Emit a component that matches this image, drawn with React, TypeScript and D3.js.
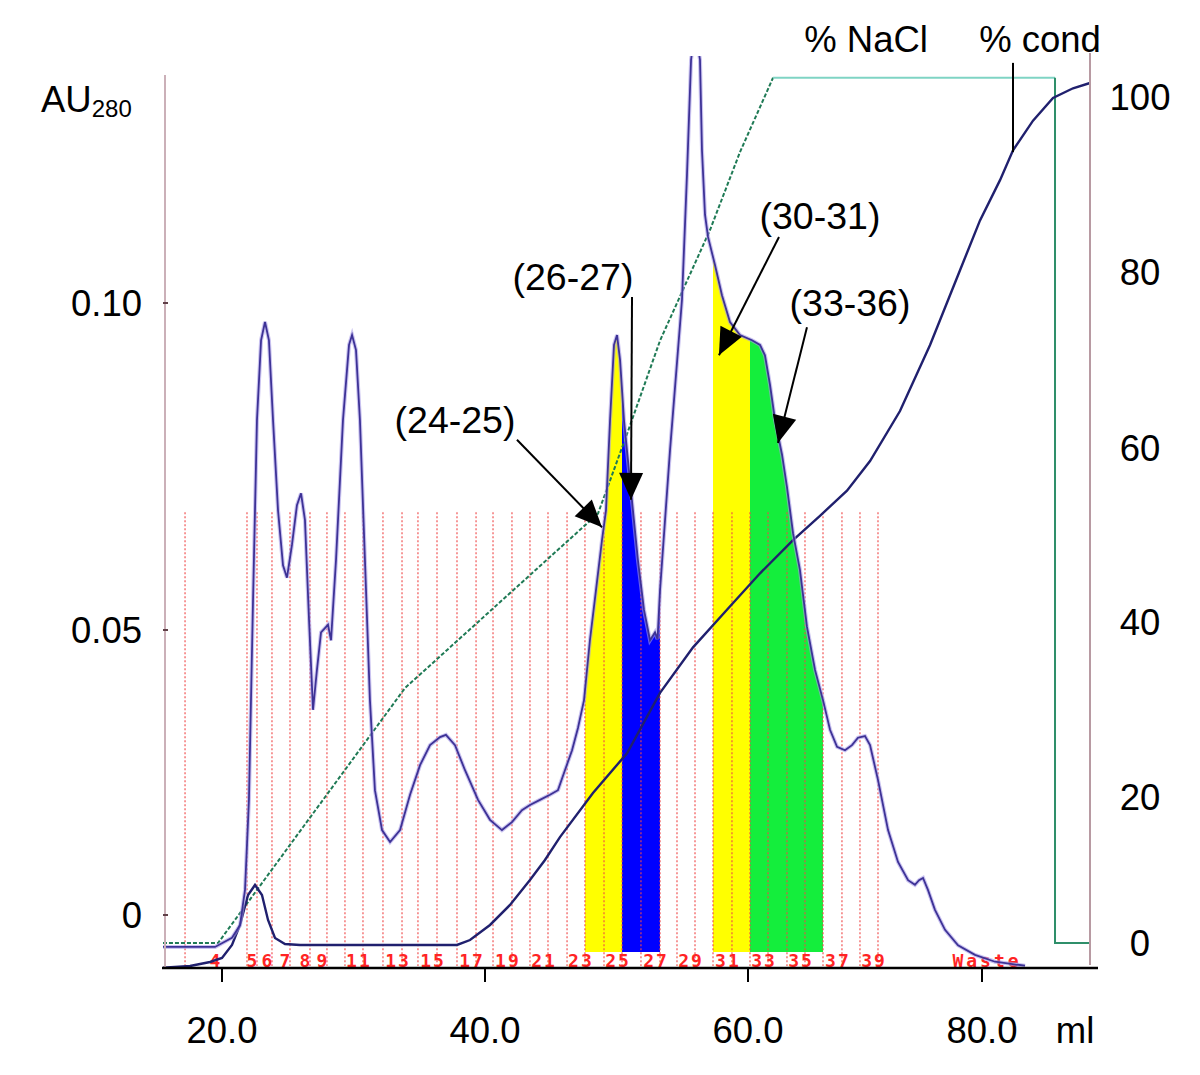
import React from 'react';
import * as d3 from 'd3';

// ---------- data ----------
// UV absorbance trace (AU280) vs elution volume (ml)
const uvMl = [15.51, 19.47, 20.76, 21.37, 21.75, 22.05, 22.36, 22.66, 22.97, 23.27, 23.57, 23.88, 24.26, 24.64, 24.94, 25.32, 25.70, 26.01, 26.31, 26.62, 26.92, 27.22, 27.53, 27.83, 28.06, 28.29, 28.67, 29.20, 29.66, 29.89, 30.19, 30.49, 30.87, 31.25, 31.63, 32.17, 32.78, 33.54, 34.30, 35.06, 35.82, 36.58, 37.03, 37.72, 38.48, 39.47, 40.38, 41.29, 42.05, 42.81, 43.42, 44.18, 44.94, 45.55, 46.08, 46.62, 47.07, 47.53, 47.98, 48.44, 48.90, 49.20, 49.51, 49.81, 50.04, 50.27, 50.57, 50.87, 51.25, 51.63, 52.09, 52.55, 52.93, 53.12, 53.31, 54.07, 54.98, 55.36, 55.67, 55.97, 56.35, 56.50, 56.73, 56.96, 57.49, 58.02, 58.63, 59.39, 60.34, 61.03, 61.45, 61.88, 62.31, 62.91, 63.33, 63.85, 64.44, 65.04, 65.73, 66.41, 67.01, 67.61, 68.29, 68.89, 69.40, 70.00, 70.43, 71.11, 71.97, 72.82, 73.68, 74.27, 74.62, 74.96, 75.38, 75.98, 76.84, 77.95, 79.40, 81.11, 83.68];
const uvAU = [-0.0056, -0.0056, -0.0040, -0.0018, 0.0044, 0.0202, 0.0546, 0.0821, 0.0943, 0.0971, 0.0943, 0.0821, 0.0683, 0.0599, 0.0580, 0.0630, 0.0691, 0.0709, 0.0668, 0.0515, 0.0360, 0.0430, 0.0496, 0.0503, 0.0508, 0.0482, 0.0607, 0.0821, 0.0936, 0.0951, 0.0928, 0.0821, 0.0607, 0.0377, 0.0219, 0.0149, 0.0128, 0.0149, 0.0211, 0.0263, 0.0298, 0.0312, 0.0316, 0.0298, 0.0254, 0.0202, 0.0167, 0.0149, 0.0163, 0.0184, 0.0193, 0.0202, 0.0211, 0.0219, 0.0254, 0.0289, 0.0328, 0.0377, 0.0482, 0.0561, 0.0638, 0.0683, 0.0821, 0.0936, 0.0951, 0.0913, 0.0821, 0.0760, 0.0683, 0.0607, 0.0531, 0.0482, 0.0496, 0.0484, 0.0561, 0.0775, 0.1005, 0.1196, 0.1372, 0.1419, 0.1372, 0.1234, 0.1135, 0.1101, 0.1058, 0.1012, 0.0971, 0.0951, 0.0943, 0.0936, 0.0920, 0.0875, 0.0821, 0.0768, 0.0719, 0.0648, 0.0592, 0.0505, 0.0430, 0.0377, 0.0325, 0.0295, 0.0289, 0.0298, 0.0311, 0.0314, 0.0298, 0.0237, 0.0149, 0.0093, 0.0061, 0.0053, 0.0061, 0.0065, 0.0044, 0.0009, -0.0026, -0.0053, -0.0070, -0.0082, -0.0089];

// Conductivity (%)
const condMl = [15.51, 17.57, 19.09, 20.0, 20.76, 21.37, 21.98, 22.51, 23.04, 23.50, 24.03, 24.79, 25.93, 37.87, 38.86, 40.38, 41.90, 43.42, 44.56, 45.70, 48.21, 50.80, 53.31, 55.82, 58.40, 61.03, 63.85, 66.15, 68.46, 70.43, 72.99, 75.56, 78.12, 79.83, 81.54, 82.65, 84.36, 86.07, 87.78, 89.23];
const condPct = [-3.4, -3.15, -2.6, -2.05, -0.27, 2.47, 6.58, 7.95, 6.58, 3.15, 0.68, -0.14, -0.27, -0.27, 0.41, 2.47, 5.21, 8.63, 11.37, 14.5, 20.46, 25.0, 31.9, 37.1, 41.4, 45.6, 49.4, 52.2, 55.1, 58.5, 64.2, 71.7, 80.2, 85.9, 90.5, 93.9, 97.3, 99.9, 101.0, 101.6];

// NaCl gradient (%)
const naclMl = [15.51, 19.70, 33.92, 48.59, 50.80, 53.31, 57.11, 59.39, 62.14, 86.24, 86.24, 89.23];
const naclPct = [0, 0, 32.46, 52.46, 61.6, 72.2, 84.8, 93.7, 102.2, 102.2, 0, 0];

// Fraction collector: boundaries (ml) starting with fraction 4
const firstFraction = 4;
const fractionBounds = [17.19, 21.90, 22.66, 23.80, 25.17, 26.69, 27.98, 29.35, 30.72, 32.24, 33.69, 34.90, 36.35, 37.87, 39.32, 40.61, 42.05, 43.42, 44.79, 46.24, 47.60, 49.05, 50.42, 51.86, 53.31, 54.60, 55.97, 57.34, 58.78, 60.17, 61.71, 63.33, 64.87, 66.41, 68.03, 69.57, 71.11];
const fractionLabels = [4, 5, 6, 7, 8, 9, 11, 13, 15, 17, 19, 21, 23, 25, 27, 29, 31, 33, 35, 37, 39];
const wasteMl = 80.43;
const fractionMarkAU = 0.068;
const poolBaseAU = -0.0065;

// Pooled fractions
const poolFrom = [24, 26, 31, 33];
const poolTo = [25, 27, 32, 36];
const poolColors = ['#ffff00', '#0000ff', '#ffff00', '#14ee3c'];

// Annotations (data coordinates)
const annText = ['(24-25)', '(26-27)', '(30-31)', '(33-36)'];
const annTextMl = [37.72, 46.69, 66.15, 68.72];
const annTextAU = [0.0801, 0.1020, 0.1113, 0.0980];
const annFromMl = [42.43, 51.18, 62.65, 65.04];
const annFromAU = [0.0791, 0.1009, 0.1101, 0.0963];
const annToMl = [48.90, 51.10, 57.79, 62.56];
const annToAU = [0.0657, 0.0699, 0.0920, 0.0786];

// Axis ticks
const xTicks = [20, 40, 60, 80];
const auTicks = [0, 0.05, 0.10];
const auTickLabels = ['0', '0.05', '0.10'];
const pctTicks = [0, 20, 40, 60, 80, 100];

export default function App() {
  const x = d3.scaleLinear().domain([20, 60, 80]).range([222, 748, 982]);
  const yAU = d3.scaleLinear().domain([0, 0.05, 0.1]).range([915, 630, 303]);
  const yPct = d3.scaleLinear().domain([0, 20, 40, 60, 80, 100]).range([943, 797, 622, 448, 272, 97]);

  const axisY = 968;
  const plotLeft = 163;
  const plotRight = 1092;
  const plotTop = 56;
  const font = "'Liberation Sans', Arial, sans-serif";
  const big = 36.5;

  const uv = uvMl.map((m, i) => [m, uvAU[i]] as [number, number]);
  const cond = condMl.map((m, i) => [m, condPct[i]] as [number, number]);
  const nacl = naclMl.map((m, i) => [m, naclPct[i]] as [number, number]);

  const uvLine = d3.line<[number, number]>().x(d => x(d[0])).y(d => yAU(d[1]))(uv) || '';
  const uvArea = d3.area<[number, number]>().x(d => x(d[0])).y0(yAU(poolBaseAU)).y1(d => yAU(d[1]))(uv) || '';
  const condLine = d3.line<[number, number]>().x(d => x(d[0])).y(d => yPct(d[1]))(cond) || '';
  const naclRise = d3.line<[number, number]>().x(d => x(d[0])).y(d => yPct(d[1]))(nacl.slice(0, 9)) || '';
  const naclTop = d3.line<[number, number]>().x(d => x(d[0])).y(d => yPct(d[1]))(nacl.slice(8, 10)) || '';
  const naclDrop = d3.line<[number, number]>().x(d => x(d[0])).y(d => yPct(d[1]))(nacl.slice(9)) || '';

  const fracStart = (n: number) => fractionBounds[n - firstFraction];
  const fracEnd = (n: number) => fractionBounds[n - firstFraction + 1];

  const arrowHead = (x1: number, y1: number, x2: number, y2: number) => {
    const dx = x2 - x1, dy = y2 - y1;
    const len = Math.hypot(dx, dy);
    const ux = dx / len, uy = dy / len;
    const L = 27, Wd = 12;
    const bx = x2 - ux * L, by = y2 - uy * L;
    return `M${x2},${y2}L${bx - uy * Wd},${by + ux * Wd}L${bx + uy * Wd},${by - ux * Wd}Z`;
  };

  return (
    <svg width={1200} height={1075} style={{ position: 'absolute', left: 0, top: 0, background: '#fff' }} fontFamily={font}>
      <defs>
        <clipPath id="plotClip">
          <rect x={plotLeft} y={plotTop} width={plotRight - plotLeft} height={axisY - plotTop} />
        </clipPath>
        {poolFrom.map((f, i) => (
          <clipPath id={`pool${i}`} key={i}>
            <rect x={x(fracStart(f))} y={plotTop} width={x(fracEnd(poolTo[i])) - x(fracStart(f))} height={axisY - plotTop} />
          </clipPath>
        ))}
      </defs>
      <rect x={0} y={0} width={1200} height={1075} fill="#fff" />

      {/* pooled fraction fills */}
      {poolFrom.map((f, i) => (
        <path key={i} d={uvArea} fill={poolColors[i]} clipPath={`url(#pool${i})`} />
      ))}

      {/* fraction marks */}
      {fractionBounds.map((b, i) => (
        <line key={i} x1={x(b)} x2={x(b)} y1={yAU(fractionMarkAU)} y2={axisY - 2}
          stroke="#f04848" strokeOpacity={0.7} strokeWidth={1.6} strokeDasharray="2,2" />
      ))}
      {fractionLabels.map((n, i) => {
        const s = x(fracStart(n)), e = x(fracEnd(n));
        const wide = e - s > 30;
        return (
          <text key={i} x={wide ? (s + e) / 2 : e - 4} y={967} textAnchor="middle"
            fontFamily="'DejaVu Sans Mono', monospace" fontWeight="bold" fontSize={18} letterSpacing={2} fill="#ff2424">{n}</text>
        );
      })}
      <text x={x(wasteMl)} y={967} textAnchor="middle" fontFamily="'DejaVu Sans Mono', monospace" fontWeight="bold"
        fontSize={18} letterSpacing={3} fill="#ff2424">Waste</text>

      {/* NaCl gradient */}
      <g clipPath="url(#plotClip)" fill="none">
        <path d={naclRise} stroke="#1f7a55" strokeWidth={2} strokeDasharray="4,2" />
        <path d={naclTop} stroke="#7fd4c4" strokeWidth={2} />
        <path d={naclDrop} stroke="#2f8f6a" strokeWidth={2} />
      </g>

      {/* conductivity */}
      <path d={condLine} fill="none" stroke="#20206e" strokeWidth={2.4} clipPath="url(#plotClip)" />

      {/* UV */}
      <g clipPath="url(#plotClip)" fill="none">
        <path d={uvLine} stroke="#a79be6" strokeWidth={4} strokeOpacity={0.6} />
        <path d={uvLine} stroke="#3d3296" strokeWidth={1.8} />
      </g>

      {/* axes */}
      <line x1={165} x2={165} y1={75} y2={axisY} stroke="#cbb0b8" strokeWidth={2} />
      {auTicks.map((t, i) => (
        <line key={i} x1={163} x2={168} y1={yAU(t)} y2={yAU(t)} stroke="#604048" strokeWidth={2} />
      ))}
      <line x1={1090} x2={1090} y1={53} y2={965} stroke="#b89aa2" strokeWidth={2} />
      <line x1={162} x2={1098} y1={axisY} y2={axisY} stroke="#000" strokeWidth={2.5} />
      {xTicks.map((t, i) => (
        <g key={i}>
          <line x1={x(t)} x2={x(t)} y1={axisY} y2={axisY + 14} stroke="#000" strokeWidth={2} />
          <text x={x(t)} y={1043} textAnchor="middle" fontSize={big}>{t.toFixed(1)}</text>
        </g>
      ))}
      <text x={1075} y={1043} textAnchor="middle" fontSize={big}>ml</text>

      {auTicks.map((t, i) => (
        <text key={i} x={142} y={yAU(t) + 13} textAnchor="end" fontSize={big}>{auTickLabels[i]}</text>
      ))}
      <text x={41} y={112} fontSize={big}>AU<tspan fontSize={24} dy={5}>280</tspan></text>

      {pctTicks.map((t, i) => (
        <text key={i} x={1140} y={yPct(t) + 13} textAnchor="middle" fontSize={big}>{t}</text>
      ))}

      {/* series labels */}
      <text x={x(70.09)} y={52} textAnchor="middle" fontSize={big}>% NaCl</text>
      <text x={x(84.96)} y={52} textAnchor="middle" fontSize={big}>% cond</text>
      <line x1={x(82.65)} x2={x(82.65)} y1={yPct(103.9)} y2={yPct(93.7)} stroke="#000" strokeWidth={2} />

      {/* annotations */}
      {annText.map((t, i) => {
        const x1 = x(annFromMl[i]), y1 = yAU(annFromAU[i]);
        const x2 = x(annToMl[i]), y2 = yAU(annToAU[i]);
        return (
          <g key={i}>
            <text x={x(annTextMl[i])} y={yAU(annTextAU[i])} textAnchor="middle" fontSize={big + 1}>{t}</text>
            <line x1={x1} y1={y1} x2={x2} y2={y2} stroke="#000" strokeWidth={2} />
            <path d={arrowHead(x1, y1, x2, y2)} fill="#000" />
          </g>
        );
      })}
    </svg>
  );
}
